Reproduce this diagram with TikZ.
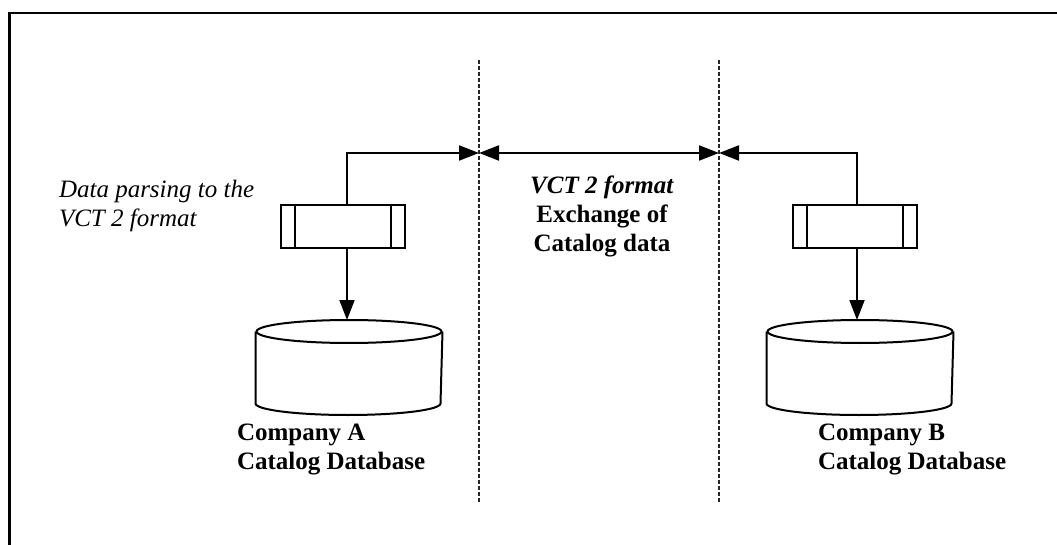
\documentclass[tikz,border=0pt]{standalone}
\usepackage{fontspec}
\setmainfont{Liberation Serif}
\usetikzlibrary{arrows.meta}
\tikzset{
  tri/.tip={Triangle[length=20pt,width=15pt]},
  procbox/.style={draw, minimum width=124pt, minimum height=43pt, inner sep=0pt},
  dbase/.style={minimum width=185pt, minimum height=93pt, inner sep=0pt},
  divider/.style={line width=1.3pt, dash pattern=on 4pt off 2pt, black!85},
  lbl/.style={font=\fontsize{25}{29}\selectfont\bfseries, align=left, inner sep=0pt},
}
\begin{document}
\begin{tikzpicture}[x=1pt,y=-1pt,line width=2pt]
  \useasboundingbox (0,0) rectangle (1057,545);
  \draw[line width=2.7pt] (9.5,545) -- (9.5,13) -- (1057,13);
  % the two borders
  \coordinate (s1t) at (479,60); \coordinate (s1b) at (479,502);
  \coordinate (s2t) at (719,60); \coordinate (s2b) at (719,502);
  \draw[divider] (s1t) -- (s1b);
  \draw[divider] (s2t) -- (s2b);
  % parsers
  \node[procbox] (pa) at (343,226.5) {};
  \node[procbox] (pb) at (855,226.5) {};
  \draw ([xshift=15pt]pa.north west) -- ([xshift=15pt]pa.south west);
  \draw ([xshift=-15pt]pa.north east) -- ([xshift=-15pt]pa.south east);
  \draw ([xshift=15pt]pb.north west) -- ([xshift=15pt]pb.south west);
  \draw ([xshift=-15pt]pb.north east) -- ([xshift=-15pt]pb.south east);
  % databases
  \node[dbase] (da) at (349,367.5) {};
  \node[dbase] (db) at (860,367.5) {};
  \foreach \d in {da,db} {
    \draw ([yshift=-11.5pt]\d.north) ellipse [x radius=92.5, y radius=11.5];
    \draw ([yshift=-11.5pt]\d.north west) -- ([yshift=11.5pt]\d.south west)
      arc [start angle=180, end angle=0, x radius=92.5, y radius=11.5]
      -- ([yshift=-11.5pt]\d.north east);
  }
  % connectors
  \coordinate (ua) at (347,153);
  \coordinate (ub) at (857,153);
  \draw[-tri] (ua |- pa.north) -- (ua) -- (ua -| s1t);
  \draw[-tri] (ub |- pb.north) -- (ub) -- (ub -| s2t);
  \draw[tri-tri] (ua -| s1t) -- (ub -| s2t);
  \draw[-tri] (ua |- pa.south) -- (ua |- da.north);
  \draw[-tri] (ub |- pb.south) -- (ub |- db.north);
  % labels
  \node[lbl, font=\fontsize{25}{29}\selectfont\itshape, anchor=north west] (pt) at (58,179)
    {Data parsing to the\\VCT 2 format};
  \node[lbl, align=center, anchor=north] (ex) at (602,175)
    {\textit{VCT 2 format}\\Exchange of\\Catalog data};
  \node[lbl, anchor=north west] (la) at (236,423) {Company A\\Catalog Database};
  \node[lbl, anchor=north west] (lb) at (817,423) {Company B\\Catalog Database};
\end{tikzpicture}
\end{document}
